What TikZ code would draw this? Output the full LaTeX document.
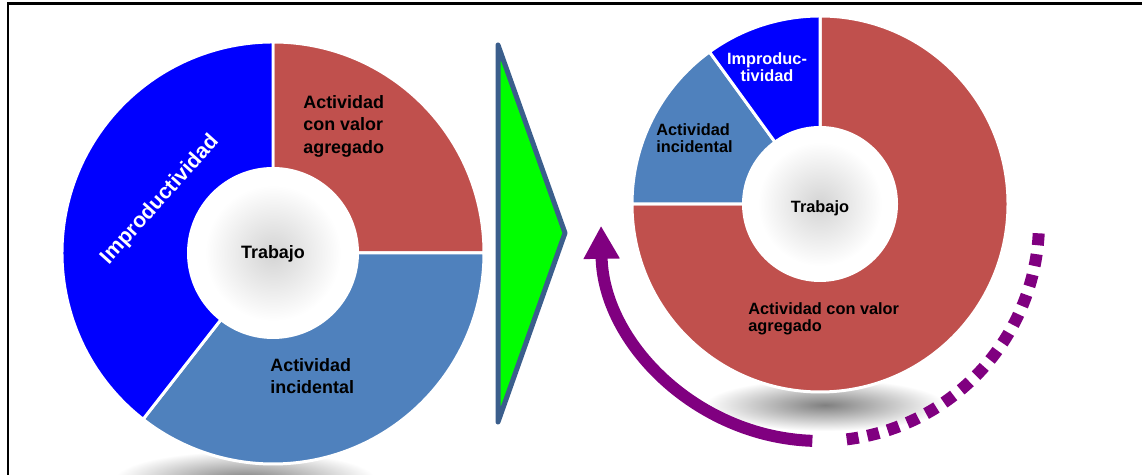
\documentclass[tikz,border=0pt]{standalone}
\usepackage{fontspec}
\setmainfont{Liberation Sans}
\usetikzlibrary{arrows.meta}

\definecolor{valred}{HTML}{C0504D}
\definecolor{incblue}{HTML}{4F81BD}
\definecolor{impblue}{HTML}{0000FF}
\definecolor{trigreen}{HTML}{00FF00}
\definecolor{triedge}{HTML}{3B5E8C}
\definecolor{arcpurple}{HTML}{800080}

\tikzset{
	wedge/.style={draw=white, line width=1.7pt, line join=round},
	lbl/.style={font=\bfseries\fontsize{10.2}{12.8}\selectfont, inner sep=0pt, align=left, text=black},
	lblsm/.style={font=\bfseries\fontsize{9.3}{10}\selectfont, inner sep=0pt, align=left, text=black},
	turn/.style={draw=arcpurple, line width=0.24cm},
	frame/.style={draw=black, line width=1.7pt}
}

\begin{document}
\begin{tikzpicture}[x=0.02cm, y=0.02cm]
	\useasboundingbox (0,0) rectangle (1142,475);

	\coordinate (hl) at (273,222);
	\coordinate (hr) at (820,271);
	\coordinate (ac) at (820,253);

	\shade[inner color=black!50, outer color=white] (245,-4) ellipse[x radius=130, y radius=28];
	\shade[inner color=black!50, outer color=white] (825,70) ellipse[x radius=120, y radius=26];

	\filldraw[wedge, fill=valred] (hl) -- ++(90:211) arc[start angle=90, end angle=0, radius=211] -- cycle;
	\filldraw[wedge, fill=incblue] (hl) -- ++(0:211) arc[start angle=0, end angle=-128, radius=211] -- cycle;
	\filldraw[wedge, fill=impblue] (hl) -- ++(232:211) arc[start angle=232, end angle=90, radius=211] -- cycle;

	\filldraw[wedge, fill=valred] (hr) -- ++(90:188) arc[start angle=90, end angle=-180, radius=188] -- cycle;
	\filldraw[wedge, fill=incblue] (hr) -- ++(180:188) arc[start angle=180, end angle=126, radius=188] -- cycle;
	\filldraw[wedge, fill=impblue] (hr) -- ++(126:188) arc[start angle=126, end angle=90, radius=188] -- cycle;

	\fill[white] (hl) circle[radius=86];
	\shade[inner color=black!17, outer color=white] (hl) circle[radius=68];
	\fill[white] (hr) circle[radius=78];
	\shade[inner color=black!17, outer color=white] (hr) circle[radius=62];

	\node[lbl, anchor=north west] (valL) at (303,380) {Actividad\\con valor\\agregado};
	\node[lbl, anchor=north west] (incL) at (270,117) {Actividad\\incidental};
	\node[lbl] (hubL) at (273,221) {Trabajo};
	\node[lbl, text=white, font=\bfseries\fontsize{12.1}{14}\selectfont, rotate=48] (impL) at (160,275) {Improductividad};

	\node[lblsm, anchor=north, align=center, text=white] (impR) at (767,423) {Improduc-\\tividad};
	\node[lblsm, anchor=north west] (incR) at (656,352) {Actividad\\incidental};
	\node[lblsm] (hubR) at (820,267) {Trabajo};
	\node[lblsm, anchor=north west] (valR) at (748,173) {Actividad con valor\\agregado};

	\filldraw[fill=trigreen, draw=triedge, line width=0.1cm, line join=round] (498,430) -- (565,242) -- (498,53) -- cycle;

	\draw[turn, -{Triangle[width=0.68cm, length=0.66cm]}] (ac) ++(-92:219) arc[start angle=-92, end angle=-179, radius=219];
	\draw[turn, dash pattern=on 0.24cm off 0.18cm] (ac) ++(-83:219) arc[start angle=-83, end angle=-1, radius=219];

	\draw[frame] (8,0) -- (8,471) -- (1142,471);
\end{tikzpicture}
\end{document}
